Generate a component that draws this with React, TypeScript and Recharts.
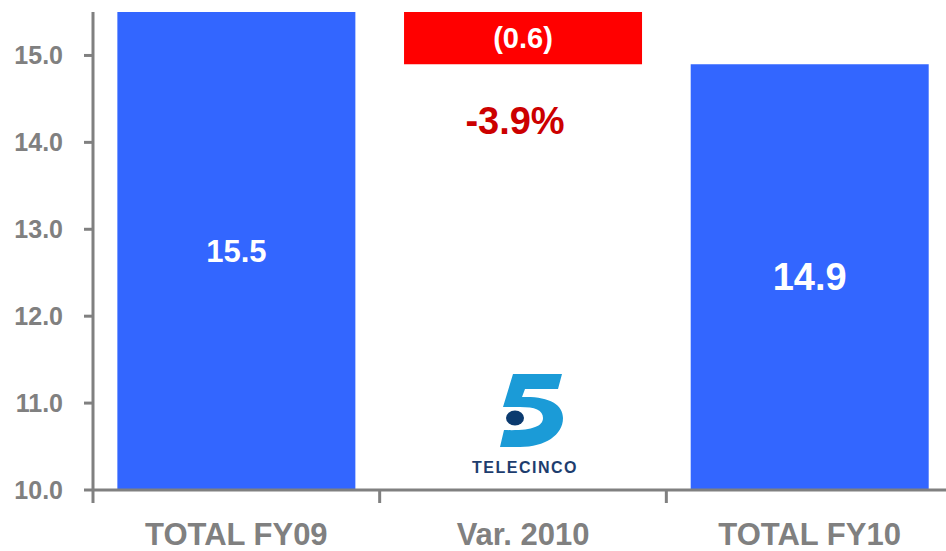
import React from 'react';
import { BarChart, Bar, XAxis, YAxis, Cell, LabelList } from 'recharts';

const categories = ['TOTAL FY09', 'Var. 2010', 'TOTAL FY10'];
const totals: (number | null)[] = [15.5, null, 14.9];
const changes: (number | null)[] = [null, -0.6, null];
const barLabels = ['15.5', '(0.6)', '14.9'];
const changePctLabels = ['', '-3.9%', ''];
const yTicks = [10, 11, 12, 13, 14, 15];

const labelFontSizes = [31, 29, 38];
const BLUE = '#3366ff';
const RED = '#ff0000';
const GRAY = '#808080';
const FONT = "'Liberation Sans', Arial, sans-serif";

const data = categories.map((name, i) => {
  const total = totals[i];
  if (total != null) return { name, value: total };
  const prev = totals[i - 1] as number;
  const next = prev + (changes[i] as number);
  return { name, value: [Math.min(prev, next), Math.max(prev, next)] };
});

const XTick = (props: any) => {
  const { x, y, payload } = props;
  const half = payload?.offset ?? 143.3;
  return (
    <g>
      <line x1={x - half} x2={x - half} y1={y} y2={y + 13} stroke={GRAY} strokeWidth={3} />
      <text
        x={x}
        y={y + 55}
        textAnchor="middle"
        fill={GRAY}
        fontSize={31}
        fontWeight="bold"
        fontFamily={FONT}
      >
        {payload.value}
      </text>
    </g>
  );
};

const renderBarLabel = (props: any) => {
  const { x, y, width, height, index } = props;
  const cx = x + width / 2;
  return (
    <g>
      <text
        x={cx}
        y={y + height / 2}
        textAnchor="middle"
        dominantBaseline="central"
        fill="#ffffff"
        fontSize={labelFontSizes[index]}
        fontWeight="bold"
        fontFamily={FONT}
      >
        {barLabels[index]}
      </text>
      {changePctLabels[index] && (
        <text
          x={cx - 8}
          y={y + height + 70}
          textAnchor="middle"
          fill="#cc0000"
          fontSize={38}
          fontWeight="bold"
          fontFamily={FONT}
        >
          {changePctLabels[index]}
        </text>
      )}
    </g>
  );
};

const TelecincoLogo = () => (
  <svg
    width={160}
    height={130}
    style={{ position: 'absolute', left: 440, top: 360, pointerEvents: 'none' }}
  >
    <path
      d="M 73 14 L 122 14 L 118 29 L 85 29 L 82 37 C 108 36, 123 44, 123 58 C 123 75, 105 87, 80 87 L 60 87 L 64 70 C 90 71, 103 67, 103 58 C 103 50, 95 47, 80 47 L 63 47 Z"
      fill="#1b9bd7"
    />
    <ellipse cx={75} cy={58} rx={9} ry={7.5} fill="#0b3a6f" />
    <text
      x={85}
      y={113}
      textAnchor="middle"
      fill="#1d3d6e"
      fontSize={16}
      fontWeight="bold"
      letterSpacing={1.5}
      fontFamily={FONT}
    >
      TELECINCO
    </text>
  </svg>
);

export default function App() {
  return (
    <div
      style={{
        position: 'absolute',
        left: 0,
        top: 0,
        width: 946,
        height: 551,
        overflow: 'hidden',
        background: '#ffffff',
      }}
    >
      <BarChart
        width={963}
        height={551}
        data={data}
        margin={{ top: 12, right: 10, left: 0, bottom: 0 }}
        barCategoryGap="8.5%"
      >
        <YAxis
          width={93}
          domain={[10, 15.5]}
          ticks={yTicks}
          allowDataOverflow
          tickFormatter={(v: number) => v.toFixed(1)}
          axisLine={{ stroke: GRAY, strokeWidth: 3 }}
          tickLine={{ stroke: GRAY, strokeWidth: 3 }}
          tickSize={9}
          tickMargin={21}
          tick={{ fill: GRAY, fontSize: 25, fontWeight: 'bold', fontFamily: FONT }}
        />
        <XAxis
          dataKey="name"
          height={61}
          axisLine={{ stroke: GRAY, strokeWidth: 3 }}
          tickLine={false}
          tickSize={0}
          tickMargin={0}
          interval={0}
          tick={<XTick />}
        />
        <Bar dataKey="value" isAnimationActive={false}>
          {data.map((d, i) => (
            <Cell key={d.name} fill={totals[i] != null ? BLUE : RED} />
          ))}
          <LabelList dataKey="value" content={renderBarLabel} />
        </Bar>
      </BarChart>
      <TelecincoLogo />
    </div>
  );
}
